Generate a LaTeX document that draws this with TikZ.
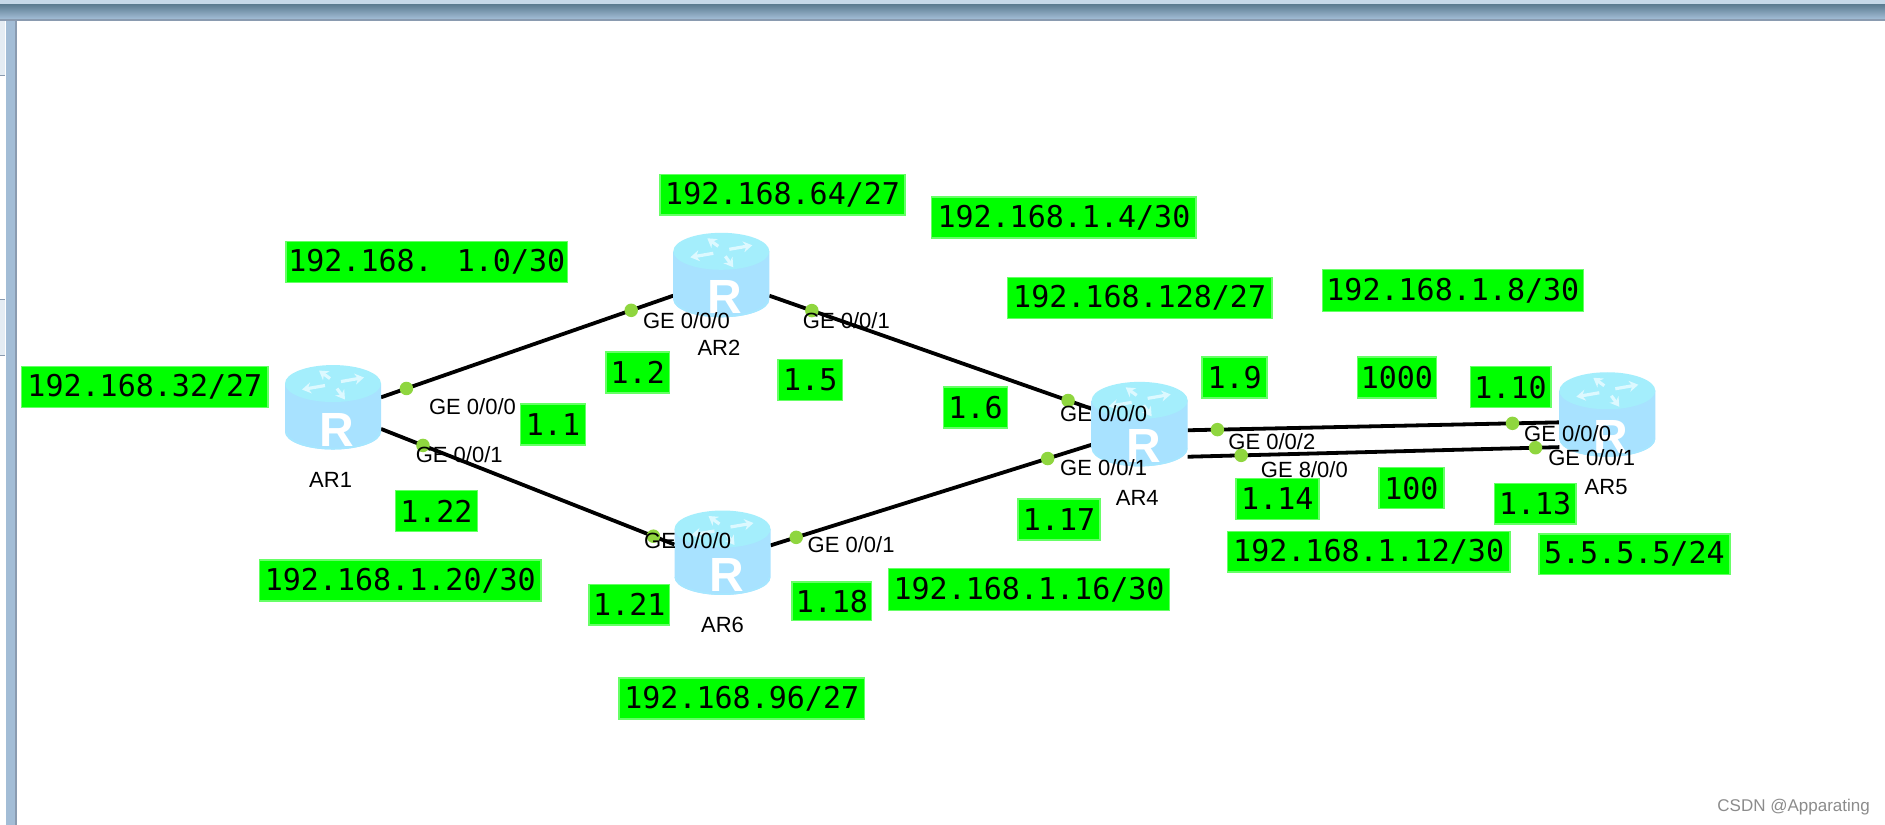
\documentclass[tikz,border=0pt]{standalone}
\usepackage{fontspec}
\setmainfont{Liberation Sans}
\newfontfamily\boxfont{DejaVu Sans Mono}
\usetikzlibrary{arrows.meta}
\definecolor{lime}{HTML}{00FF00}
\definecolor{limeedge}{HTML}{66FF66}
\definecolor{portdot}{HTML}{8FD63F}
\definecolor{chromeA}{HTML}{C5D8E8}
\definecolor{chromeB}{HTML}{5F7F94}
\definecolor{chromeC}{HTML}{A3BDD6}
\definecolor{chromeD}{HTML}{8A9BB0}
\definecolor{chromeP}{HTML}{E4ECF3}
\definecolor{bodyEdge}{HTML}{A8E2FF}
\definecolor{bodyMid}{HTML}{7CC4FA}
\definecolor{bodyRim}{HTML}{A6E6FF}
\definecolor{bodyTop}{HTML}{A4EEFC}
\definecolor{iconPale}{HTML}{DDF9FF}
\tikzset{
  routerbox/.style={minimum width=96pt,minimum height=84pt,inner sep=0pt,outer sep=0pt},
  linkline/.style={line width=3.8pt,black},
  dotmark/.style={circle,fill=portdot,inner sep=0pt,minimum size=13.5pt},
  portlabel/.style={font=\fontsize{22}{24}\selectfont,inner sep=0pt,text=black},
  greenbox/.style={fill=lime,draw=limeedge,line width=1.5pt,inner sep=0pt,font=\boxfont\fontsize{30}{36}\selectfont,text=black},
  iconarrow/.style={iconPale,line width=3.2pt,-{Stealth[length=9pt,width=11pt]}},
}
% name x1 x2 y1 y2 text
\newcommand{\gbox}[6]{\node[greenbox,minimum width={(#3-#2)*1.2022pt},minimum height={(#5-#4)*1.2022pt}] (#1) at ({(#2+#3)/2},{(#4+#5)/2}) {#6};}
\newcommand{\routericon}[1]{%
  \begin{scope}[shift={(#1.center)},x=1pt,y=1pt]
    \path[left color=bodyEdge,middle color=bodyMid,right color=bodyEdge]
      (-48,24) -- (-48,-24) arc[start angle=180,end angle=360,x radius=48,y radius=18] -- (48,24) -- cycle;
    \draw[bodyRim,line width=2pt] (-47,-24) arc[start angle=180,end angle=360,x radius=47,y radius=17];
    \fill[bodyTop] (0,24) ellipse[x radius=48,y radius=18.5];
    \draw[iconarrow] (8,26) -- (31,30);
    \draw[iconarrow] (-8,22) -- (-31,18);
    \draw[iconarrow] (-3,29) -- (-14,37);
    \draw[iconarrow] (4,19) -- (12,8);
    \node[font=\bfseries\fontsize{48}{50}\selectfont,text=white,inner sep=0pt] (#1R) at (4,-22) {R};
  \end{scope}}
\begin{document}
\begin{tikzpicture}[x=1.2022pt,y=-1.2022pt]
\useasboundingbox (0,0) rectangle (1568,686.25);
\fill[white] (0,0) rectangle (1568,686.25);
% window frame
\begin{scope}[x=1pt,y=-1pt]
  \fill[chromeA] (0,0) rectangle (1885,5);
  \shade[top color=chromeB,bottom color=chromeC] (0,5) rectangle (1885,19);
  \fill[chromeD] (0,19) rectangle (1885,21);
  \fill[chromeC] (6,21) rectangle (15,825);
  \fill[chromeD] (15,21) rectangle (17,825);
  \fill[chromeP] (0,21) rectangle (5,75);
  \fill[chromeD] (0,75) rectangle (5,76.5);
  \fill[chromeD] (0,299) rectangle (5,300.5);
  \fill[chromeP] (0,300.5) rectangle (5,355);
  \fill[chromeD] (0,355) rectangle (5,356.5);
\end{scope}
% router anchors
\node[routerbox] (ar1) at (277,339) {};
\node[routerbox] (ar2) at (600,229) {};
\node[routerbox] (ar6) at (601,460) {};
\node[routerbox] (ar4) at (948,353) {};
\node[routerbox] (ar5) at (1337,345) {};
% links and port dots
\draw[linkline] (ar1.12.3) -- node[dotmark,pos=.087] (d1) {} node[dotmark,pos=.856] (d2) {} (ar2.203.6);
\draw[linkline] (ar1.-24) -- node[dotmark,pos=.143] (d3) {} node[dotmark,pos=.928] (d4) {} (ar6.170.5);
\draw[linkline] (ar2.-23.6) -- node[dotmark,pos=.132] (d5) {} node[dotmark,pos=.927] (d6) {} (ar4.162.6);
\draw[linkline] (ar6.9.5) -- node[dotmark,pos=.08] (d7) {} node[dotmark,pos=.863] (d8) {} (ar4.203.6);
\draw[linkline] (ar4.-7) -- node[dotmark,pos=.08] (d9) {} node[dotmark,pos=.874] (d10) {} (ar5.189.5);
\draw[linkline] (ar4.-34.2) -- node[dotmark,pos=.144] (d11) {} node[dotmark,pos=.936] (d12) {} (ar5.214.2);
% router icons
\routericon{ar1}\routericon{ar2}\routericon{ar6}\routericon{ar4}\routericon{ar5}
% router names
\node[portlabel] (n1) at (275,399) {AR1};
\node[portlabel] (n2) at (598,289) {AR2};
\node[portlabel] (n6) at (601,520) {AR6};
\node[portlabel] (n4) at (946,414) {AR4};
\node[portlabel] (n5) at (1336,405) {AR5};
% port names
\node[portlabel] (p1) at (393,338) {GE 0/0/0};
\node[portlabel] (p2) at (382,378) {GE 0/0/1};
\node[portlabel] (p3) at (571,267) {GE 0/0/0};
\node[portlabel] (p4) at (704,267) {GE 0/0/1};
\node[portlabel] (p5) at (572,450) {GE 0/0/0};
\node[portlabel] (p6) at (708,453) {GE 0/0/1};
\node[portlabel] (p7) at (918,344) {GE 0/0/0};
\node[portlabel] (p8) at (918,389) {GE 0/0/1};
\node[portlabel] (p9) at (1058,367) {GE 0/0/2};
\node[portlabel] (p10) at (1085,391) {GE 8/0/0};
\node[portlabel] (p11) at (1304,361) {GE 0/0/0};
\node[portlabel] (p12) at (1324,381) {GE 0/0/1};
% green labels
\gbox{b1}{549}{753}{145}{179}{192.168.64/27}
\gbox{b2}{775}{995}{164}{198}{192.168.1.4/30}
\gbox{b3}{238}{472}{201}{235}{192.168. 1.0/30}
\gbox{b4}{838}{1058}{231}{265}{192.168.128/27}
\gbox{b5}{1100}{1317}{224}{259}{192.168.1.8/30}
\gbox{b6}{18}{223}{305}{339}{192.168.32/27}
\gbox{b7}{504}{557}{293}{327}{1.2}
\gbox{b8}{647}{701}{299}{333}{1.5}
\gbox{b9}{785}{838}{322}{356}{1.6}
\gbox{b10}{433}{487}{336}{370}{1.1}
\gbox{b11}{1000}{1054}{297}{331}{1.9}
\gbox{b12}{1129}{1195}{297}{331}{1000}
\gbox{b13}{1223}{1290}{305}{339}{1.10}
\gbox{b14}{329}{397}{408}{442}{1.22}
\gbox{b15}{1028}{1097}{398}{432}{1.14}
\gbox{b16}{1147}{1201}{389}{423}{100}
\gbox{b17}{1243}{1311}{402}{436}{1.13}
\gbox{b18}{847}{915}{415}{449}{1.17}
\gbox{b19}{1021}{1256}{442}{476}{192.168.1.12/30}
\gbox{b20}{1280}{1439}{444}{478}{5.5.5.5/24}
\gbox{b21}{216}{450}{466}{500}{192.168.1.20/30}
\gbox{b22}{739}{973}{473}{508}{192.168.1.16/30}
\gbox{b23}{490}{557}{486}{520}{1.21}
\gbox{b24}{659}{725}{484}{516}{1.18}
\gbox{b25}{515}{719}{564}{598}{192.168.96/27}
\node[font=\fontsize{17}{20}\selectfont,text=black!45,inner sep=0pt] (wm) at (1492,671) {CSDN @Apparating};
\end{tikzpicture}
\end{document}
